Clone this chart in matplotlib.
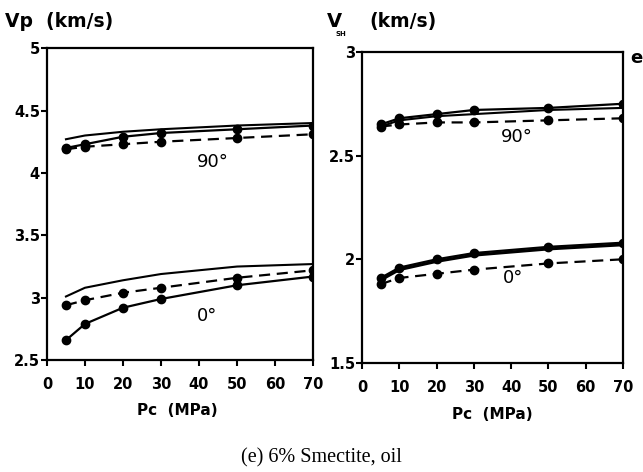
import matplotlib
matplotlib.use("Agg")
import matplotlib.pyplot as plt

pc = [5, 10, 20, 30, 50, 70]

# Vp panel
vp90_upper = [4.27, 4.30, 4.33, 4.35, 4.38, 4.40]
vp90_solid = [4.20, 4.23, 4.29, 4.32, 4.35, 4.38]
vp90_dash = [4.19, 4.21, 4.23, 4.25, 4.28, 4.31]
vp0_upper = [3.01, 3.08, 3.14, 3.19, 3.25, 3.27]
vp0_dash = [2.94, 2.98, 3.04, 3.08, 3.16, 3.22]
vp0_solid = [2.66, 2.79, 2.92, 2.99, 3.10, 3.17]

# Vsh panel
vs90_solid = [2.65, 2.68, 2.70, 2.72, 2.73, 2.75]
vs90_upper = [2.64, 2.67, 2.69, 2.70, 2.72, 2.73]
vs90_dash = [2.64, 2.65, 2.66, 2.66, 2.67, 2.68]
vs0_solid = [1.91, 1.96, 2.00, 2.03, 2.06, 2.08]
vs0_upper = [1.90, 1.95, 1.99, 2.02, 2.05, 2.07]
vs0_dash = [1.88, 1.91, 1.93, 1.95, 1.98, 2.00]

xticks = [0, 10, 20, 30, 40, 50, 60, 70]
vp_ticks = [2.5, 3, 3.5, 4, 4.5, 5]
vp_ticklabels = ["2.5", "3", "3.5", "4", "4.5", "5"]
vs_ticks = [1.5, 2, 2.5, 3]
vs_ticklabels = ["1.5", "2", "2.5", "3"]

plt.rcParams['font.family'] = ['DejaVu Sans']
fig = plt.figure(figsize=(6.43, 4.72), dpi=100)
ax1 = fig.add_axes([0.073, 0.237, 0.414, 0.661])
ax2 = fig.add_axes([0.563, 0.231, 0.406, 0.659])

def style(ax, yticks, ylabels, ylim):
    ax.set_xlim(0, 70)
    ax.set_ylim(*ylim)
    ax.set_xticks(xticks)
    ax.set_xticklabels([str(t) for t in xticks], fontweight='bold', fontsize=10.5)
    ax.set_yticks(yticks)
    ax.set_yticklabels(ylabels, fontweight='bold', fontsize=10.5)
    ax.tick_params(direction='out', length=4, width=1.5, pad=1)
    ax.tick_params(axis='x', pad=8)
    for s in ax.spines.values():
        s.set_linewidth(1.6)

kw_m = dict(color='black', marker='o', markersize=6, linewidth=1.6)
kw_d = dict(color='black', marker='o', markersize=6, linewidth=1.6, linestyle=(0, (5, 3)))
kw_l = dict(color='black', linewidth=1.5)

ax1.plot(pc, vp90_upper, **kw_l)
ax1.plot(pc, vp90_solid, **kw_m)
ax1.plot(pc, vp90_dash, **kw_d)
ax1.plot(pc, vp0_upper, **kw_l)
ax1.plot(pc, vp0_dash, **kw_d)
ax1.plot(pc, vp0_solid, **kw_m)
style(ax1, vp_ticks, vp_ticklabels, (2.5, 5))
ax1.text(43.5, 4.09, "90°", fontsize=13, ha='center', va='center')
ax1.text(42, 2.85, "0°", fontsize=13, ha='center', va='center')

ax2.plot(pc, vs90_upper, **kw_l)
ax2.plot(pc, vs90_solid, **kw_m)
ax2.plot(pc, vs90_dash, **kw_d)
ax2.plot(pc, vs0_upper, color='black', linewidth=2.2)
ax2.plot(pc, vs0_solid, **kw_m)
ax2.plot(pc, vs0_dash, **kw_d)
style(ax2, vs_ticks, vs_ticklabels, (1.5, 3))
ax2.text(41.5, 2.59, "90°", fontsize=13, ha='center', va='center')
ax2.text(40.5, 1.91, "0°", fontsize=13, ha='center', va='center')

fig.text(0.008, 0.955, "Vp  (km/s)", fontsize=13.5, fontweight='bold', ha='left', va='center')
fig.text(0.508, 0.955, "V", fontsize=14, fontweight='bold', ha='left', va='center')
fig.text(0.522, 0.928, "SH", fontsize=5, fontweight='bold', ha='left', va='center')
fig.text(0.574, 0.955, "(km/s)", fontsize=13.5, fontweight='bold', ha='left', va='center')
fig.text(0.98, 0.878, "e", fontsize=13, fontweight='bold', ha='left', va='center')

fig.text(0.275, 0.131, "Pc  (MPa)", fontsize=11, fontweight='bold', ha='center', va='center')
fig.text(0.765, 0.121, "Pc  (MPa)", fontsize=11, fontweight='bold', ha='center', va='center')

fig.text(0.50, 0.03, "(e) 6% Smectite, oil", fontsize=14.5, family='Liberation Serif',
         ha='center', va='center')

fig.savefig("out.png", dpi=100)
